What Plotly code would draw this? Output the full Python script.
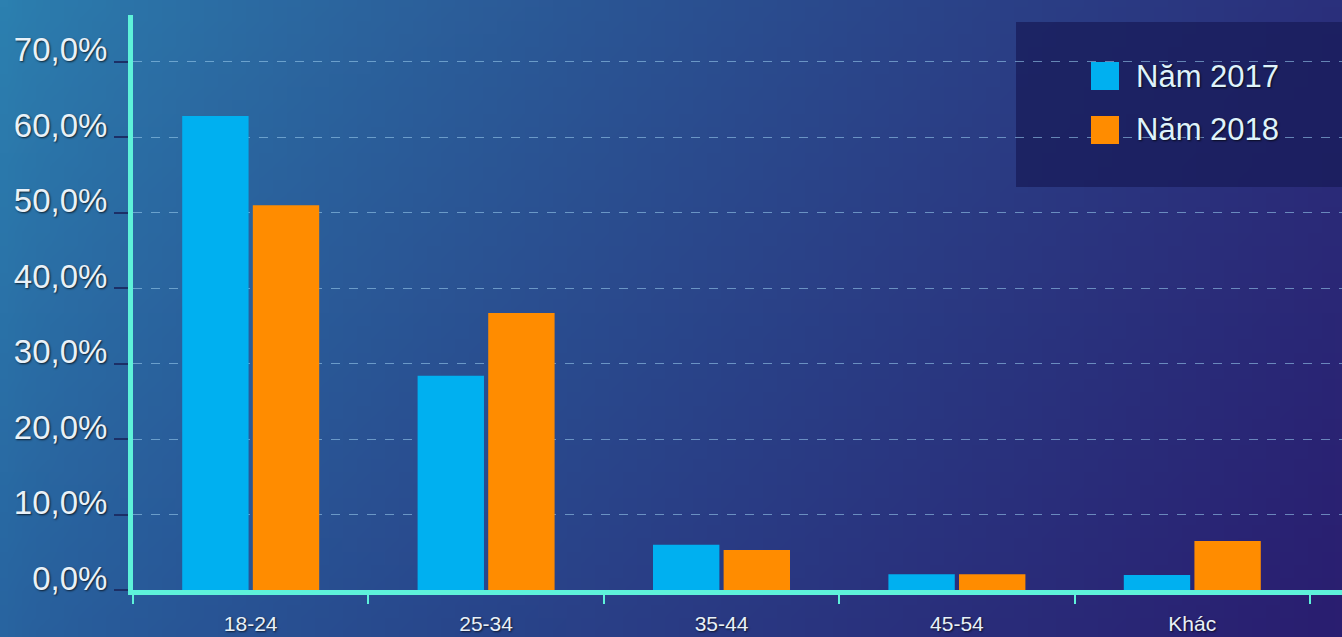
import base64, struct, zlib
import numpy as np
import plotly.graph_objects as go

categories = ["18-24", "25-34", "35-44", "45-54", "Khác"]
series_names = ["Năm 2017", "Năm 2018"]
series_colors = ["#00b0f0", "#ff8c00"]
values_2017 = [62.8, 28.4, 6.0, 2.1, 2.0]
values_2018 = [51.0, 36.7, 5.3, 2.1, 6.5]
y_tick_values = [0, 10, 20, 30, 40, 50, 60, 70]
y_tick_labels = ["0,0%", "10,0%", "20,0%", "30,0%", "40,0%", "50,0%", "60,0%", "70,0%"]

W, H = 1342, 637
ML, MR, MT, MB = 133, 0, 15, 47
PW, PH = W - ML - MR, H - MT - MB


def px_x(px):
    return (px - ML) / PW


def px_y(py):
    return 1 - (py - MT) / PH


def gradient_png(w=96, h=48):
    tl = np.array([44, 128, 176], float)
    bl = np.array([40, 100, 160], float)
    tr = np.array([42, 48, 124], float)
    br = np.array([42, 30, 112], float)
    xs = np.linspace(0, 1, w)[None, :, None]
    ys = np.linspace(0, 1, h)[:, None, None]
    xs2 = xs ** 0.8
    top = tl * (1 - xs2) + tr * xs2
    bot = bl * (1 - xs2) + br * xs2
    img = (top * (1 - ys) + bot * ys).clip(0, 255).astype(np.uint8)
    raw = b"".join(b"\x00" + img[r].tobytes() for r in range(h))

    def chunk(t, d):
        c = struct.pack(">I", len(d)) + t + d
        return c + struct.pack(">I", zlib.crc32(t + d) & 0xFFFFFFFF)

    png = b"\x89PNG\r\n\x1a\n"
    png += chunk(b"IHDR", struct.pack(">IIBBBBB", w, h, 8, 2, 0, 0, 0))
    png += chunk(b"IDAT", zlib.compress(raw, 9))
    png += chunk(b"IEND", b"")
    return "data:image/png;base64," + base64.b64encode(png).decode()


AXIS = "#5ef2da"
TXT = "#e9f1f8"
shadow = "1px 1px 2px rgba(0,0,0,0.7)"

fig = go.Figure()
for name, vals, col in zip(series_names, [values_2017, values_2018], series_colors):
    fig.add_trace(go.Bar(x=categories, y=vals, name=name, showlegend=False,
                         marker=dict(color=col, line=dict(width=0))))

cat_w = (1310 - ML) / 5.0
x_end = 4.5 + (W - 1310) / cat_w

shapes = [dict(
    type="rect", xref="paper", yref="paper",
    x0=px_x(1016), x1=1.0, y0=px_y(187), y1=px_y(22),
    fillcolor="rgba(24,26,88,0.72)", line=dict(width=0), layer="below",
)]
annotations = []
legend_rows = [76, 130]
for name, col, cy in zip(series_names, series_colors, legend_rows):
    shapes.append(dict(
        type="rect", xref="paper", yref="paper",
        x0=px_x(1091), x1=px_x(1119), y0=px_y(cy + 14), y1=px_y(cy - 14),
        fillcolor=col, line=dict(width=0), layer="above",
    ))
    annotations.append(dict(
        text=name, xref="paper", yref="paper", x=px_x(1134), y=px_y(cy),
        xanchor="left", yanchor="middle", showarrow=False,
        font=dict(size=31, color="#dff3fb", shadow=shadow),
    ))

fig.update_layout(
    width=W, height=H,
    margin=dict(l=ML, r=MR, t=MT, b=MB, pad=0),
    paper_bgcolor="#2a4a8e",
    plot_bgcolor="rgba(0,0,0,0)",
    barmode="group",
    bargap=0.40,
    bargroupgap=0.06,
    font=dict(family="Liberation Sans, Arial, sans-serif", color=TXT),
    showlegend=False,
    images=[dict(
        source=gradient_png(), xref="paper", yref="paper",
        x=-ML / PW, y=1 + MT / PH, sizex=W / PW, sizey=H / PH,
        xanchor="left", yanchor="top", sizing="stretch", layer="below",
    )],
    shapes=shapes,
    annotations=annotations,
)

fig.update_xaxes(
    type="category", range=[-0.5, x_end],
    showline=True, linecolor=AXIS, linewidth=5,
    ticks="outside", tickson="boundaries", ticklen=9, tickwidth=2, tickcolor=AXIS,
    showgrid=False, zeroline=False,
    tickfont=dict(size=21, color=TXT, shadow=shadow),
    ticklabelstandoff=11,
)
fig.update_yaxes(
    range=[0, 76.2],
    tickvals=y_tick_values, ticktext=y_tick_labels,
    showline=True, linecolor=AXIS, linewidth=5,
    ticks="outside", ticklen=14, tickwidth=2, tickcolor="#1c2f66",
    showgrid=True, gridcolor="rgba(150,200,235,0.6)", gridwidth=1, griddash="dash",
    zeroline=False,
    tickfont=dict(size=33, color=TXT, shadow=shadow),
    ticklabelshift=-12, ticklabelstandoff=0,
)

fig.write_html("out.html", config={"displayModeBar": False},
               post_script="document.body.style.margin='0';document.body.style.padding='0';")
